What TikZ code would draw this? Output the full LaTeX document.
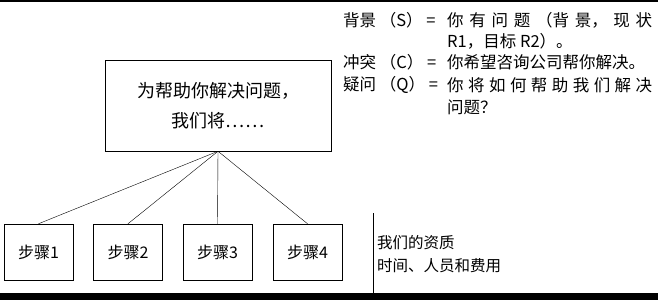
\documentclass[tikz,border=0pt]{standalone}
\usepackage{fontspec}
\setmainfont{Noto Sans CJK SC}
\usetikzlibrary{positioning}
\tikzset{
  base/.style={draw,line width=0.5pt,inner sep=2pt},
  goalbox/.style={base,minimum width=226pt,minimum height=91pt,align=center,font=\fontsize{18}{30}\selectfont},
  stepbox/.style={base,minimum width=69pt,minimum height=56pt,font=\fontsize{16}{20}\selectfont},
  lbl/.style={anchor=west,inner sep=0pt,font=\fontsize{15.5}{20}\selectfont},
  scq/.style={anchor=west,inner sep=0pt,font=\fontsize{16.5}{20}\selectfont}}
\begin{document}
\begin{tikzpicture}[x=1pt,y=-1pt]
\useasboundingbox (0,0) rectangle (658,300);
% rules at top and bottom
\draw[line width=1.5pt] (0,0.75) -- (658,0.75);
\fill (0,293) rectangle (658,300);
% situation, complication, question
\node[scq] (sk) at (343,20) {背景 （S） =};
\node[scq] (sv) at (447,20) {\hbox to 205pt{你\hfil 有\hfil 问\hfil 题\hfil （背\hfil 景，\hfil 现\hfil 状}};
\node[scq] (sv2) at (447,41) {R1，目标 R2）。};
\node[scq] (ck) at (343,62) {冲突 （C） =};
\node[scq] (cv) at (447,62) {你希望咨询公司帮你解决。};
\node[scq] (qk) at (343,85) {疑问 （Q） =};
\node[scq] (qv) at (447,85) {\hbox to 205pt{你\hfil 将\hfil 如\hfil 何\hfil 帮\hfil 助\hfil 我\hfil 们\hfil 解\hfil 决}};
\node[scq] (qv2) at (447,107) {问题？};
% answer and steps
\node[goalbox] (goal) at (218,105.5) {为帮助你解决问题，\\ 我们将……};
\foreach \i/\x in {1/38.5,2/128,3/217.5,4/307.5} {
  \node[stepbox] (s\i) at (\x,252) {步骤\i};
  \draw (goal.south) -- (s\i.north);
}
% qualifications
\draw (373,213) -- (373,293);
\node[lbl] (qual) at (377,243) {我们的资质};
\node[lbl, below=8pt of qual.south west, anchor=north west] (cost) {时间、人员和费用};
\end{tikzpicture}
\end{document}
